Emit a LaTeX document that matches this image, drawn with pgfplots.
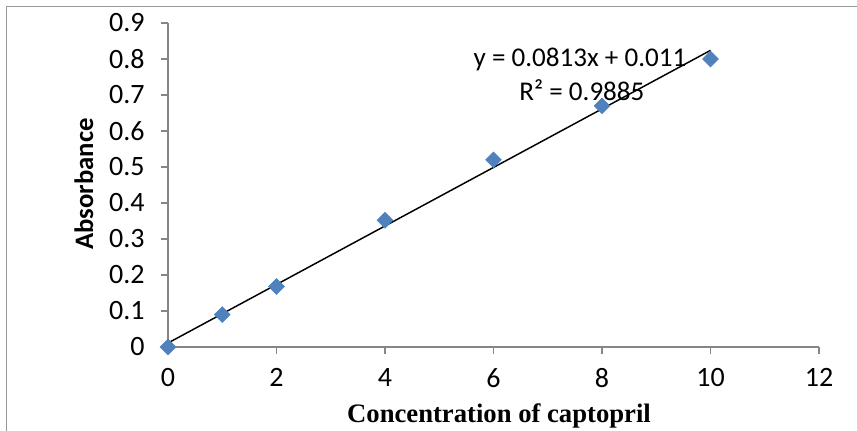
\documentclass[border=0pt]{standalone}
\usepackage{fontspec}
\setmainfont{Carlito}
\newfontfamily\timesf{Liberation Serif}
\usepackage{pgfplots}
\pgfplotsset{compat=1.18}
\definecolor{exblue}{HTML}{4F81BD}
\definecolor{axgray}{HTML}{868686}

\begin{document}
\begin{tikzpicture}[x=0.75pt,y=0.75pt]
\useasboundingbox (0,0) rectangle (857,431);
\draw[color=axgray!85, line width=1.1pt] (6.5,0) -- (6.5,424.5) -- (857,424.5);
\begin{axis}[
    at={(126pt,63pt)}, anchor=south west,
    scale only axis,
    width=488.25pt, height=243pt,
    xmin=0, xmax=12, ymin=0, ymax=0.9,
    axis x line=bottom, axis y line=left,
    axis line style={-, color=axgray, line width=1.1pt},
    xtick align=outside, ytick align=outside,
    every tick/.append style={axgray, line width=1.1pt},
    major tick length=5pt,
    xtick={0,2,4,6,8,10,12},
    ytick={0,0.1,0.2,0.3,0.4,0.5,0.6,0.7,0.8,0.9},
    /pgf/number format/assume math mode=true,
    yticklabel style={/pgf/number format/fixed, /pgf/number format/precision=1, xshift=-9pt},
    xticklabel style={yshift=-7.5pt},
    ticklabel style={font=\fontsize{21}{24}\selectfont, text=black},
    clip=false,
]
\addplot[only marks, mark=square*, mark size=4.2pt,
    mark options={rotate=45, fill=exblue, draw=exblue}]
    coordinates {(0,0) (1,0.09) (2,0.168) (4,0.352) (6,0.52) (8,0.67) (10,0.80)};
\addplot[black, line width=1.1pt] coordinates {(0,0.011) (10,0.824)};
\node[anchor=base, font=\fontsize{20.3}{24}\selectfont] at (axis cs:7.594,0.778) {y = 0.0813x + 0.011};
\node[anchor=base, font=\fontsize{20.3}{24}\selectfont] at (axis cs:7.63,0.686) {R² = 0.9885};
\end{axis}
\node[anchor=base, font=\fontsize{20}{22}\selectfont\timesf\bfseries] at (499,8.5) {Concentration of captopril};
\node[anchor=base, rotate=90, font=\fontsize{20}{22}\selectfont\bfseries] at (93,247) {Absorbance};
\end{tikzpicture}
\end{document}
